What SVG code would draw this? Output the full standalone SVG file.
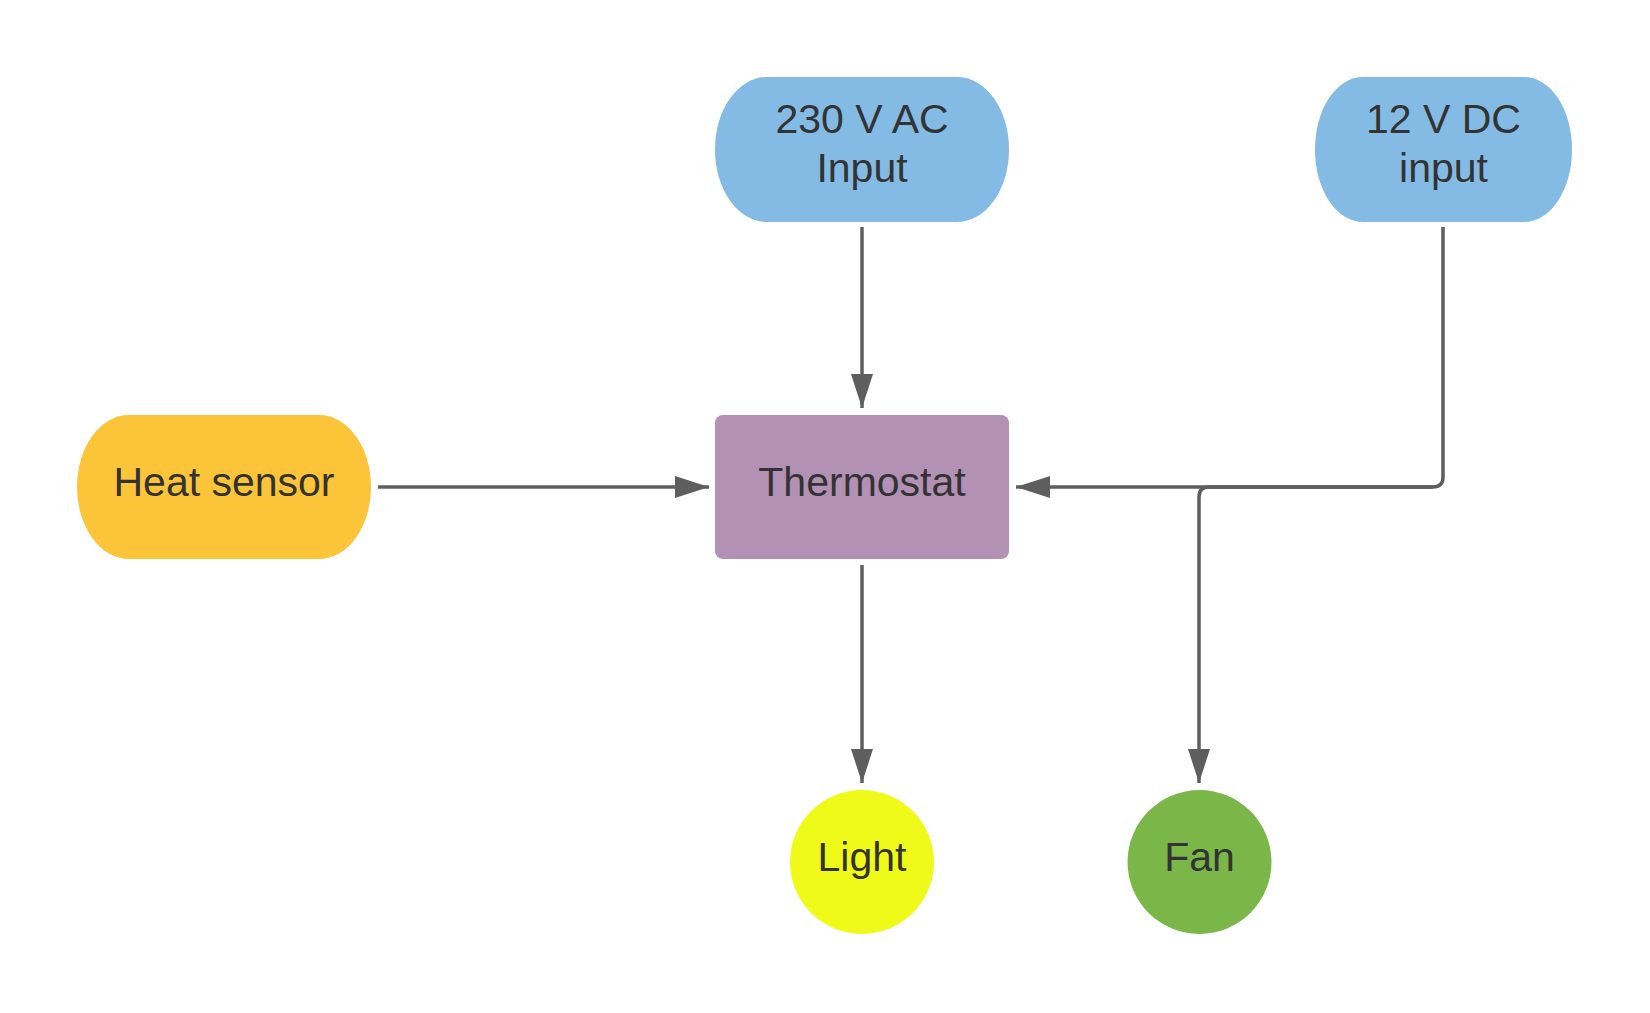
<svg xmlns="http://www.w3.org/2000/svg" width="1650" height="1013" viewBox="0 0 1650 1013">
<style>
  .lbl { font-family: "Liberation Sans", Arial, sans-serif; font-size: 41px; fill: #333333; text-anchor: middle; }
  .conn { fill: none; stroke: #5E5E5E; stroke-width: 3.5; }
</style>
<defs>
  <marker id="arrow" viewBox="0 0 34 22" refX="34" refY="11" markerWidth="34" markerHeight="22" markerUnits="userSpaceOnUse" orient="auto">
    <path d="M0,0 L34,11 L0,22 Z" fill="#5E5E5E"/>
  </marker>
</defs>
<rect width="1650" height="1013" fill="#FFFFFF"/>
<g id="node-230vac">
  <rect x="715" y="77" width="294" height="145" rx="52" ry="72" fill="#83BBE5"/>
  <text class="lbl" x="862" y="133">230 V AC</text>
  <text class="lbl" x="862" y="182">Input</text>
</g>
<g id="node-12vdc">
  <rect x="1315" y="77" width="257" height="145" rx="48" ry="72" fill="#83BBE5"/>
  <text class="lbl" x="1443.5" y="133">12 V DC</text>
  <text class="lbl" x="1443.5" y="182">input</text>
</g>
<g id="node-heat">
  <rect x="77" y="415" width="294" height="144" rx="52" ry="72" fill="#FCC438"/>
  <text class="lbl" x="224" y="496">Heat sensor</text>
</g>
<g id="node-thermostat">
  <rect x="715" y="415" width="294" height="144" rx="8" ry="8" fill="#B391B5"/>
  <text class="lbl" x="862" y="496">Thermostat</text>
</g>
<g id="node-light">
  <circle cx="862" cy="862" r="72" fill="#F0FA19"/>
  <text class="lbl" x="862" y="871">Light</text>
</g>
<g id="node-fan">
  <circle cx="1199.5" cy="862" r="72" fill="#7AB648"/>
  <text class="lbl" x="1199.5" y="871">Fan</text>
</g>
<g id="connectors">
  <path class="conn" d="M862,227 L862,408" marker-end="url(#arrow)"/>
  <path class="conn" d="M378,487 L709,487" marker-end="url(#arrow)"/>
  <path class="conn" d="M862,565 L862,783" marker-end="url(#arrow)"/>
  <path class="conn" d="M1443,227 L1443,477 Q1443,487 1433,487 L1016,487" marker-end="url(#arrow)"/>
  <path class="conn" d="M1433,487 L1209,487 Q1199,487 1199,497 L1199,783" marker-end="url(#arrow)"/>
</g>
</svg>
